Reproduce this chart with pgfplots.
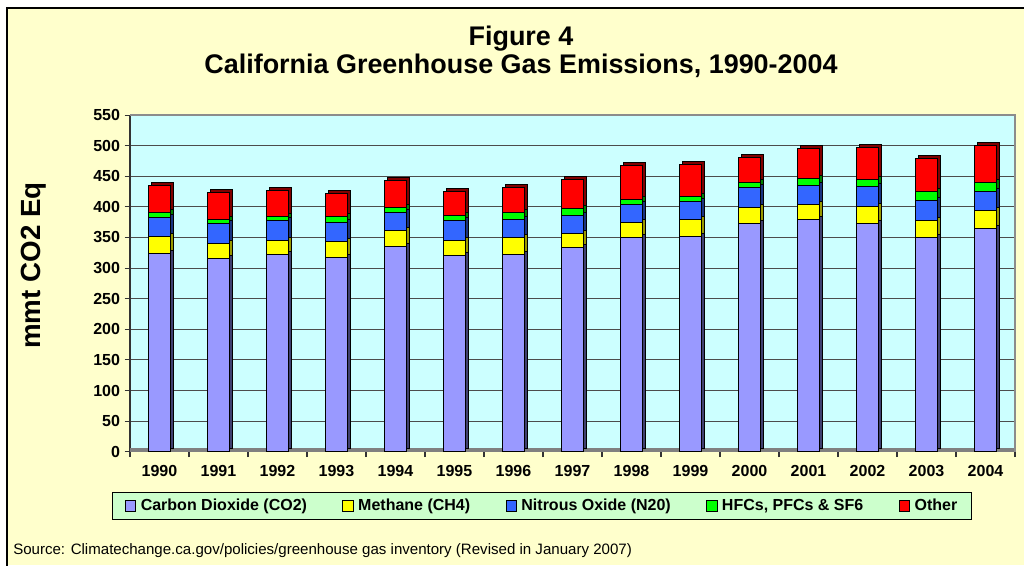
\documentclass[border=0pt]{standalone}
\usepackage{fontspec}
\setmainfont{Liberation Sans}
\usepackage{pgfplots}
\usepackage{pgfplotstable}
\pgfplotsset{compat=1.18}
\definecolor{chartbg}{HTML}{FFFFCC}
\definecolor{plotbg}{HTML}{CCFFFF}
\definecolor{legbg}{HTML}{CCFFCC}
\definecolor{cco}{HTML}{9999FF}
\definecolor{cch}{HTML}{FFFF00}
\definecolor{cn}{HTML}{3366FF}
\definecolor{ch}{HTML}{00FF00}
\definecolor{cot}{HTML}{FF0000}
\definecolor{dco}{HTML}{404070}
\definecolor{dch}{HTML}{999900}
\definecolor{dn}{HTML}{1A3380}
\definecolor{dh}{HTML}{008000}
\definecolor{dot}{HTML}{800000}

\pgfplotstableread{
x co2 ch4 n2o hfc other
0 324.4 27.3 31.5 7.7 43.7
1 316.2 24.0 32.0 6.6 44.1
2 322.3 23.3 31.5 6.6 43.1
3 317.9 25.0 31.6 9.2 38.7
4 335.8 25.7 28.7 9.3 43.6
5 320.0 25.6 31.5 8.9 38.5
6 322.8 27.2 29.9 11.0 40.8
7 334.2 22.4 29.8 11.0 47.8
8 350.5 24.5 29.4 8.2 55.5
9 351.0 27.8 30.0 8.7 52.2
10 372.2 27.3 32.2 8.6 40.8
11 379.4 25.0 31.0 11.5 47.8
12 372.9 27.1 33.8 11.4 51.8
13 350.5 27.3 33.1 13.6 55.0
14 364.1 29.4 31.6 15.2 59.3
}\emissions

\pgfplotsset{
 base/.style={scale only axis, width=663.75pt, height=252.5pt,
   xmin=-0.5, xmax=14.5, ymin=0, ymax=550, anchor=south west},
 legsq/.style={legend image code/.code={\draw[fill=#1,draw=black,line width=0.6pt] (0pt,-3.9pt) rectangle (7.8pt,3.9pt);}},
}

\begin{document}
\begin{tikzpicture}
\path[use as bounding box] (0,0) rectangle (768pt,423.75pt);
\fill[white] (0,0) rectangle (768pt,423.75pt);
\fill[chartbg] (5.25pt,0) rectangle (768pt,417.75pt);
\draw[black, line width=1.2pt] (5.25pt,-2pt) -- (5.25pt,417.75pt) -- (772pt,417.75pt);

\node[anchor=base, inner sep=0, font=\bfseries\fontsize{20.2}{24}\selectfont] at (390.75pt,389.5pt) {Figure 4};
\node[anchor=base, inner sep=0, font=\bfseries\fontsize{20.2}{24}\selectfont] at (390.75pt,368.6pt) {California Greenhouse Gas Emissions, 1990-2004};
\node[rotate=90, inner sep=0, font=\bfseries\fontsize{20.8}{24}\selectfont] at (25pt,224.6pt) {mmt CO2 Eq};
\node[anchor=west, inner sep=0, font=\fontsize{11.3}{13}\selectfont] at (9.75pt,10.5pt) {Source: Climatechange.ca.gov/policies/greenhouse gas inventory (Revised in January 2007)};

% background, grid, ticks
\begin{axis}[base, at={(97.5pt,84.975pt)},
  axis background/.style={fill=plotbg},
  axis x line*=bottom, axis y line*=left,
  axis line style={black!80, line width=0.8pt},
  ytick={0,50,...,550},
  ymajorgrids, grid style={black!70, line width=0.8pt},
  xtick={-0.5,0.5,...,14.5}, xticklabels={},
  extra x ticks={0,1,...,14},
  extra x tick labels={1990,1991,1992,1993,1994,1995,1996,1997,1998,1999,2000,2001,2002,2003,2004},
  extra x tick style={major tick length=0pt, grid=none, tick label style={yshift=-7pt}},
  tick align=outside, major tick length=4pt,
  tick style={black!80, line width=0.8pt},
  ticklabel style={font=\bfseries\fontsize{12}{12}\selectfont},
  /pgf/number format/assume math mode=true,
  clip=false,
]
  \addplot[draw=none] coordinates {(0,0)};
  \fill[black!50] (rel axis cs:0,0) rectangle ([yshift=3pt]rel axis cs:1,0);
  \draw[black!45, line width=1pt] (rel axis cs:0,1) -- (rel axis cs:1,1) -- (rel axis cs:1,0);
\end{axis}

% shadow (3D side) bars
\begin{axis}[base, at={(99.75pt,87.225pt)}, hide axis,
  ybar stacked, bar width=16.5pt]
  \addplot[fill=dco, draw=black, line width=0.7pt] table[x=x,y=co2]{\emissions};
  \addplot[fill=dch, draw=black, line width=0.7pt] table[x=x,y=ch4]{\emissions};
  \addplot[fill=dn, draw=black, line width=0.7pt] table[x=x,y=n2o]{\emissions};
  \addplot[fill=dh, draw=black, line width=0.7pt] table[x=x,y=hfc]{\emissions};
  \addplot[fill=dot, draw=black, line width=0.7pt] table[x=x,y=other]{\emissions};
\end{axis}

% front bars
\begin{axis}[base, at={(97.5pt,84.975pt)}, hide axis,
  ybar stacked, bar width=16.5pt,
  legend columns=5,
  legend style={at={(0.466,-0.161)}, anchor=center, fill=legbg, draw=black,
    line width=0.8pt, font=\bfseries\fontsize{12}{13}\selectfont,
    inner xsep=9pt, inner ysep=3pt,
    /tikz/every odd column/.append style={column sep=1.5pt},
    /tikz/every even column/.append style={column sep=24.5pt}},
]
  \addplot[fill=cco, draw=black, line width=0.7pt, legsq=cco] table[x=x,y=co2]{\emissions};
  \addlegendentry{Carbon Dioxide (CO2)}
  \addplot[fill=cch, draw=black, line width=0.7pt, legsq=cch] table[x=x,y=ch4]{\emissions};
  \addlegendentry{Methane (CH4)}
  \addplot[fill=cn, draw=black, line width=0.7pt, legsq=cn] table[x=x,y=n2o]{\emissions};
  \addlegendentry{Nitrous Oxide (N20)}
  \addplot[fill=ch, draw=black, line width=0.7pt, legsq=ch] table[x=x,y=hfc]{\emissions};
  \addlegendentry{HFCs, PFCs \& SF6}
  \addplot[fill=cot, draw=black, line width=0.7pt, legsq=cot] table[x=x,y=other]{\emissions};
  \addlegendentry{Other}
\end{axis}
\end{tikzpicture}
\end{document}
